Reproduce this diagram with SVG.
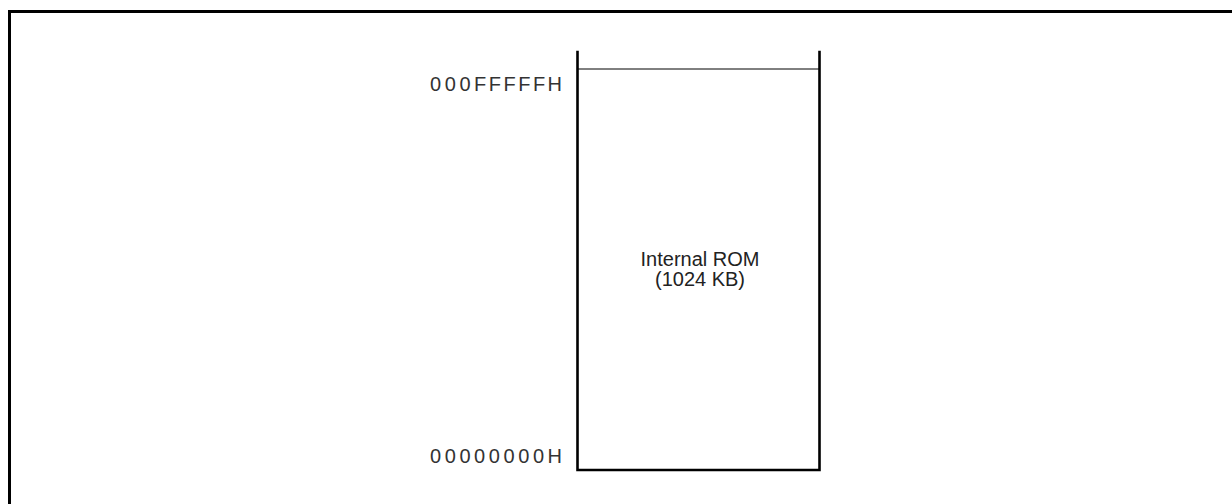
<svg xmlns="http://www.w3.org/2000/svg" width="1232" height="504" viewBox="0 0 1232 504">
<style>
.frame{fill:none;stroke:#000;stroke-width:3}
.box{fill:none;stroke:#000;stroke-width:2.6;stroke-linecap:square}
.thin{fill:none;stroke:#000;stroke-width:1}
.addr{font-family:"Liberation Sans",Arial,sans-serif;font-size:20px;fill:#333}
.lbl{font-family:"Liberation Sans",Arial,sans-serif;font-size:20px;fill:#222;text-anchor:middle}
</style>
<rect width="1232" height="504" fill="#fff"/>
<path class="frame" d="M9.5,504 V11.5 H1232"/>
<g id="memory-block">
<path class="box" d="M577.5,52 V470 H819.5 V52"/>
<line class="thin" x1="577.5" y1="69" x2="819.5" y2="69"/>
<text class="lbl" x="700" y="266">Internal ROM</text>
<text class="lbl" x="700" y="286">(1024 KB)</text>
</g>
<g id="addr-top">
<text class="addr" x="430 444.7 459.4 474.1 488.8 503.5 518.2 532.9 547.6" y="91">000FFFFFH</text>
</g>
<g id="addr-bottom">
<text class="addr" x="430 444.7 459.4 474.1 488.8 503.5 518.2 532.9 547.6" y="463">00000000H</text>
</g>
<g id="connectors"></g>
</svg>
